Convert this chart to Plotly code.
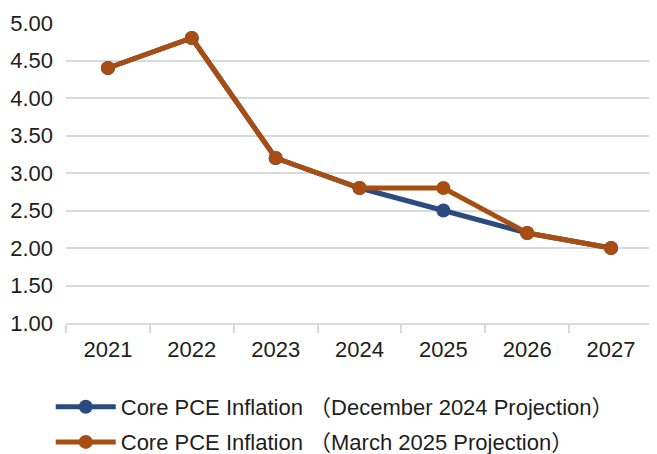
import plotly.graph_objects as go

years = ["2021", "2022", "2023", "2024", "2025", "2026", "2027"]
dec_2024 = [4.4, 4.8, 3.2, 2.8, 2.5, 2.2, 2.0]
mar_2025 = [4.4, 4.8, 3.2, 2.8, 2.8, 2.2, 2.0]
names = ["Core PCE Inflation （December 2024 Projection）",
         "Core PCE Inflation （March 2025 Projection）"]
y_ticks = [1.0, 1.5, 2.0, 2.5, 3.0, 3.5, 4.0, 4.5, 5.0]

FONT = "Liberation Sans, Arial, Noto Sans CJK SC, sans-serif"

fig = go.Figure()
fig.add_trace(go.Scatter(x=years, y=dec_2024, name=names[0], mode="lines+markers",
                         line=dict(color="#2B4A80", width=5),
                         marker=dict(color="#2B4A80", size=14),
                         legend="legend"))
fig.add_trace(go.Scatter(x=years, y=mar_2025, name=names[1], mode="lines+markers",
                         line=dict(color="#A84E13", width=5),
                         marker=dict(color="#A84E13", size=14),
                         legend="legend2"))

legend_common = dict(orientation="v", xanchor="left", yanchor="middle",
                     font=dict(family=FONT, size=22, color="#1E1E1E"),
                     bgcolor="rgba(0,0,0,0)", itemwidth=60)

fig.update_layout(
    width=657, height=454,
    margin=dict(l=58, r=12, t=15, b=139, autoexpand=False),
    paper_bgcolor="white", plot_bgcolor="white",
    font=dict(family=FONT, size=22, color="#1E1E1E"),
    showlegend=True,
    legend=dict(x=-0.026, y=-0.28, **legend_common),
    legend2=dict(x=-0.026, y=-0.397, **legend_common),
    xaxis=dict(type="category", showgrid=False, showline=True, linecolor="#D9D9D9",
               linewidth=1.5, ticks="outside", tickson="boundaries", ticklen=8,
               tickcolor="#D9D9D9", tickwidth=1.5, tickfont=dict(size=22),
               tickangle=0, ticklabelstandoff=6, range=[-0.5, 6.5]),
    yaxis=dict(range=[1.0, 5.0], tickvals=y_ticks,
               ticktext=[f"{v:.2f}" for v in y_ticks],
               showgrid=True, gridcolor="#D9D9D9", gridwidth=1.5,
               zeroline=False, showline=False, ticks="", ticklabelstandoff=12,
               tickfont=dict(size=22)),
)

fig.write_html("out.html")
